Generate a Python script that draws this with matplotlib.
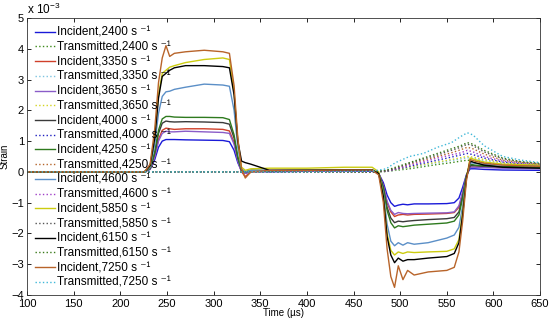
import matplotlib
matplotlib.use("Agg")
import matplotlib.pyplot as plt

plt.rcParams['font.family'] = ['Liberation Sans', 'DejaVu Sans']
plt.rcParams['mathtext.fontset'] = 'custom'
plt.rcParams['mathtext.rm'] = 'Liberation Sans'
plt.rcParams['mathtext.it'] = 'Liberation Sans:italic'

# time grids (µs)
t_inc = [100, 226, 232, 237, 241, 245, 249, 253, 258, 270, 290, 310, 317, 322, 326, 330, 334, 340, 360, 400,
         440, 470, 477, 482, 486, 490, 494, 498, 503, 508, 515, 530, 550, 558, 563, 567, 571, 575, 580, 590,
         610, 650]
t_tr = [100, 300, 400, 470, 485, 495, 510, 525, 540, 555, 565, 572, 578, 590, 610, 630, 650]

# strain values (x 1e-3)
inc_2400 = [0, 0, 0.08, 0.4, 0.8, 1.0, 1.05, 1.05, 1.05, 1.04, 1.03, 1.02, 0.98, 0.7, 0.3, 0.02, -0.05, 0.02, 0.0, 0.02,
            0.03, 0.02, -0.05, -0.35, -0.75, -1.0, -1.12, -1.08, -1.05, -1.07, -1.04, -1.04, -1.03, -1.0, -0.85, -0.5,
            -0.1, 0.1, 0.1, 0.08, 0.06, 0.05]
inc_3350 = [0, 0, 0.1, 0.5, 1.05, 1.35, 1.42, 1.4, 1.38, 1.4, 1.4, 1.38, 1.33, 0.95, 0.4, 0.0, -0.15, 0.0, 0.02, 0.03,
            0.05, 0.05, -0.05, -0.45, -1.0, -1.3, -1.45, -1.4, -1.38, -1.4, -1.38, -1.37, -1.35, -1.32, -1.15, -0.7,
            -0.15, 0.2, 0.2, 0.18, 0.15, 0.12]
inc_3650 = [0, 0, 0.1, 0.5, 1.0, 1.25, 1.32, 1.3, 1.3, 1.32, 1.3, 1.28, 1.25, 0.9, 0.35, 0.0, -0.05, 0.0, 0.02, 0.03,
            0.04, 0.04, -0.05, -0.45, -0.95, -1.25, -1.38, -1.32, -1.35, -1.36, -1.35, -1.34, -1.33, -1.3, -1.1, -0.65,
            -0.1, 0.15, 0.15, 0.14, 0.12, 0.1]
inc_4000 = [0, 0, 0.12, 0.6, 1.25, 1.58, 1.65, 1.63, 1.62, 1.63, 1.62, 1.6, 1.55, 1.1, 0.45, 0.05, 0.0, 0.05, 0.04, 0.05,
            0.06, 0.06, -0.05, -0.5, -1.15, -1.5, -1.65, -1.6, -1.62, -1.6, -1.58, -1.55, -1.52, -1.48, -1.3, -0.8,
            -0.15, 0.2, 0.2, 0.18, 0.16, 0.14]
inc_4250 = [0, 0, 0.12, 0.65, 1.35, 1.72, 1.8, 1.8, 1.78, 1.77, 1.77, 1.76, 1.7, 1.2, 0.5, 0.05, 0.0, 0.05, 0.04, 0.06,
            0.07, 0.07, -0.05, -0.55, -1.25, -1.65, -1.82, -1.75, -1.78, -1.76, -1.73, -1.7, -1.66, -1.6, -1.4, -0.85,
            -0.15, 0.25, 0.22, 0.2, 0.18, 0.15]
inc_4600 = [0, 0, 0.15, 0.9, 1.9, 2.45, 2.6, 2.62, 2.68, 2.75, 2.85, 2.82, 2.78, 2.0, 0.8, 0.1, 0.0, 0.05, 0.05, 0.05,
            0.06, 0.06, -0.05, -0.7, -1.7, -2.25, -2.4, -2.3, -2.38, -2.3, -2.35, -2.3, -2.15, -2.05, -1.8, -1.1,
            -0.2, 0.3, 0.28, 0.25, 0.22, 0.2]
inc_5850 = [0, 0, 0.2, 1.2, 2.5, 3.2, 3.3, 3.4, 3.45, 3.55, 3.65, 3.7, 3.65, 2.6, 1.0, 0.15, 0.05, 0.1, 0.12, 0.12,
            0.15, 0.15, 0.0, -0.8, -2.0, -2.55, -2.7, -2.6, -2.65, -2.6, -2.62, -2.6, -2.58, -2.5, -2.2, -1.3,
            -0.2, 0.45, 0.4, 0.32, 0.25, 0.22]
inc_6150 = [0, 0, 0.2, 1.1, 2.4, 3.1, 3.2, 3.3, 3.38, 3.45, 3.45, 3.42, 3.38, 2.5, 1.0, 0.35, 0.3, 0.25, 0.05, 0.05,
            0.06, 0.06, -0.05, -0.8, -2.1, -2.7, -2.95, -2.8, -2.9, -2.85, -2.85, -2.8, -2.75, -2.65, -2.3, -1.4,
            -0.2, 0.35, 0.3, 0.22, 0.15, 0.12]
inc_7250 = [0, 0, 0.25, 1.4, 2.9, 3.7, 4.1, 3.75, 3.85, 3.9, 3.95, 3.9, 3.85, 2.8, 1.1, 0.1, -0.2, 0.0, 0.05, 0.05,
            0.06, 0.06, -0.1, -1.0, -2.5, -3.4, -3.75, -3.05, -3.5, -3.2, -3.35, -3.25, -3.2, -3.1, -2.6, -1.6,
            -0.3, 0.4, 0.35, 0.28, 0.22, 0.18]

tr_2400 = [0, 0, 0, 0, 0.01, 0.05, 0.1, 0.17, 0.24, 0.3, 0.35, 0.38, 0.36, 0.3, 0.24, 0.2, 0.17]
tr_3350 = [0, 0, 0, 0, 0.02, 0.06, 0.14, 0.22, 0.3, 0.37, 0.42, 0.46, 0.44, 0.37, 0.28, 0.23, 0.2]
tr_3650 = [0, 0, 0, 0, 0.02, 0.07, 0.15, 0.24, 0.32, 0.4, 0.46, 0.5, 0.48, 0.4, 0.3, 0.25, 0.2]
tr_4000 = [0, 0, 0, 0, 0.02, 0.08, 0.18, 0.28, 0.38, 0.48, 0.55, 0.6, 0.56, 0.45, 0.32, 0.26, 0.22]
tr_4250 = [0, 0, 0, 0, 0.03, 0.1, 0.25, 0.38, 0.5, 0.62, 0.72, 0.8, 0.75, 0.58, 0.38, 0.3, 0.25]
tr_4600 = [0, 0, 0, 0, 0.03, 0.1, 0.22, 0.33, 0.45, 0.55, 0.62, 0.7, 0.65, 0.5, 0.35, 0.28, 0.23]
tr_5850 = [0, 0, 0, 0, 0.04, 0.12, 0.28, 0.42, 0.55, 0.7, 0.8, 0.9, 0.85, 0.65, 0.42, 0.32, 0.26]
tr_6150 = [0, 0, 0, 0, 0.05, 0.15, 0.3, 0.45, 0.6, 0.75, 0.85, 0.95, 0.9, 0.7, 0.45, 0.33, 0.28]
tr_7250 = [0, 0, 0, 0.02, 0.1, 0.3, 0.5, 0.6, 0.8, 0.95, 1.15, 1.27, 1.2, 0.85, 0.5, 0.38, 0.3]

rates = [2400, 3350, 3650, 4000, 4250, 4600, 5850, 6150, 7250]
incident = [inc_2400, inc_3350, inc_3650, inc_4000, inc_4250, inc_4600, inc_5850, inc_6150, inc_7250]
transmitted = [tr_2400, tr_3350, tr_3650, tr_4000, tr_4250, tr_4600, tr_5850, tr_6150, tr_7250]
inc_colors = ['#1a1ad8', '#d0402a', '#8a5cc8', '#3a3a3a', '#2e7a1e', '#5b8fc7', '#cccc10', '#000000', '#b8642a']
tr_colors = ['#3d8a1a', '#7cc4e0', '#d4d420', '#2020c0', '#b5652a', '#a040c8', '#555555', '#3a7a1a', '#40b8d8']

fig = plt.figure(figsize=(5.5, 3.2), dpi=100)
ax = fig.add_axes([0.049, 0.078, 0.933, 0.866])

for r, yi, yt, ci, ct in zip(rates, incident, transmitted, inc_colors, tr_colors):
    ax.plot(t_inc, yi, color=ci, lw=1.0, label='Incident,%d s \u207b\u00b9' % r)
    ax.plot(t_tr, yt, color=ct, lw=1.0, ls=':', label='Transmitted,%d s \u207b\u00b9' % r)

ax.set_xlim(100, 650)
ax.set_ylim(-4, 5)
ax.set_xticks(range(100, 651, 50))
ax.set_yticks(range(-4, 6))
ax.tick_params(direction='in', top=True, right=True, labelsize=8, length=3, width=0.6, pad=2)
ax.tick_params(axis='x', pad=3)
for s in ax.spines.values():
    s.set_linewidth(0.6)
    s.set_color('#333333')
ax.set_xlabel('Time (µs)', fontsize=7, labelpad=-1)
ax.set_ylabel('Strain', fontsize=7, labelpad=1)
ax.text(0.0, 1.005, 'x 10$^{-3}$', transform=ax.transAxes, fontsize=8.5, va='bottom', ha='left')

ax.legend(loc='upper left', bbox_to_anchor=(0.015, 0.968), frameon=False, fontsize=8.5,
          handlelength=1.7, handletextpad=0.2, labelspacing=0.23, borderaxespad=0, borderpad=0)

fig.savefig('out.png', dpi=100)
